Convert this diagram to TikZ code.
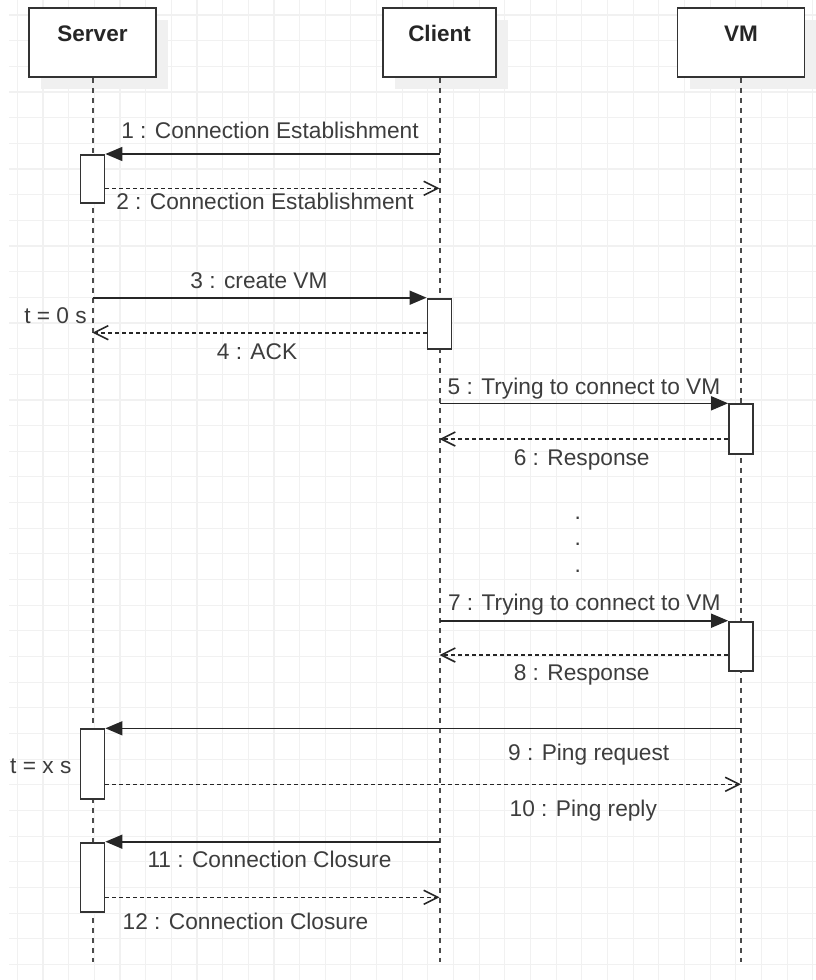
\documentclass[tikz,border=0pt]{standalone}
\usepackage{fontspec}
\setmainfont{Liberation Sans}
\usetikzlibrary{arrows.meta,calc}
\definecolor{gridc}{HTML}{F1F1F1}
\definecolor{shadowc}{HTML}{F0F0F0}
\definecolor{ink}{HTML}{333333}
\definecolor{txt}{HTML}{3D3D3D}
\definecolor{life}{HTML}{4A4A4A}
\begin{document}
\begin{tikzpicture}[x=1pt,y=-1pt,
  gridline/.style={draw=gridc,line width=1.2pt},
  headbox/.style={draw=ink,line width=1.8pt,fill=white,minimum height=69pt,inner sep=0pt},
  headshadow/.style={fill=shadowc,draw=none,minimum height=69pt,inner sep=0pt},
  title/.style={font=\fontsize{22.5}{26}\selectfont\bfseries,text=black!85,inner sep=0pt,text height=16pt,text depth=0pt},
  lifeline/.style={draw=life,line width=2pt,dash pattern=on 5pt off 5pt},
  actbox/.style={draw=ink,line width=1.8pt,fill=white,minimum width=24pt,inner sep=0pt,anchor=north},
  sync/.style={draw=black!85,line width=1.6pt,-{Triangle[length=17pt,width=14pt]}},
  reply/.style={draw=black!85,line width=1.6pt,dash pattern=on 4pt off 3pt,-{Straight Barb[length=14pt,width=14pt]}},
  msglabel/.style={font=\fontsize{22.7}{26}\selectfont,text=txt,inner sep=0pt,text height=16pt,text depth=0pt},
]
% canvas
\useasboundingbox (0,0) rectangle (816,980);
\fill[white] (0,0) rectangle (816,980);

% background grid
\foreach \i in {0,...,31}
  \draw[gridline] ({17.3+25.66*\i},0) -- ({17.3+25.66*\i},980);
\foreach \j in {0,...,37}
  \draw[gridline] (9,{15+25.66*\j}) -- (816,{15+25.66*\j});

% x positions of the three lifelines
\def\xs{92.5}
\def\xc{439.5}
\def\xv{741}

% header shadows
\node[headshadow,minimum width=127pt] (srvshadow) at (\xs+12,54.5) {};
\node[headshadow,minimum width=113pt] (clishadow) at (\xc+12,54.5) {};
\node[headshadow,minimum width=127pt] (vmshadow) at (\xv+12,54.5) {};

% header boxes
\node[headbox,minimum width=127pt] (srvbox) at (\xs,42.5) {};
\node[headbox,minimum width=113pt] (clibox) at (\xc,42.5) {};
\node[headbox,minimum width=127pt] (vmbox) at (\xv,42.5) {};
\node[title] (srvtitle) at (\xs,33) {Server};
\node[title] (clititle) at (\xc,33) {Client};
\node[title] (vmtitle) at (\xv,33) {VM};

% lifelines
\coordinate (lifeend) at (0,962);
\draw[lifeline] (srvbox.south) -- (srvbox.south |- lifeend);
\draw[lifeline] (clibox.south) -- (clibox.south |- lifeend);
\draw[lifeline] (vmbox.south) -- (vmbox.south |- lifeend);

% rows of the reply messages
\coordinate (r2) at (0,188.3);
\coordinate (r4) at (0,332.7);
\coordinate (r6) at (0,439);
\coordinate (r8) at (0,655);
\coordinate (r10) at (0,784.3);
\coordinate (r12) at (0,897.3);

% activation bars
\node[actbox,minimum height=48pt] (act1) at (\xs,154) {};
\node[actbox,minimum height=50pt] (act2) at (\xc,297.7) {};
\node[actbox,minimum height=50pt] (act3) at (\xv,403.3) {};
\node[actbox,minimum height=49.3pt] (act4) at (\xv,620.7) {};
\node[actbox,minimum height=70pt] (act5) at (\xs,728.3) {};
\node[actbox,minimum height=69pt] (act6) at (\xs,841.7) {};

% messages
\draw[sync] (clibox.south |- act1.north) -- (act1.north east);
\draw[reply] (act1.east |- r2) -- (clibox.south |- r2);
\draw[sync] (srvbox.south |- act2.north) -- (act2.north west);
\draw[reply] (act2.west |- r4) -- (srvbox.south |- r4);
\draw[sync] (clibox.south |- act3.north) -- (act3.north west);
\draw[reply] (act3.west |- r6) -- (clibox.south |- r6);
\draw[sync] (clibox.south |- act4.north) -- (act4.north west);
\draw[reply] (act4.west |- r8) -- (clibox.south |- r8);
\draw[sync] (vmbox.south |- act5.north) -- (act5.north east);
\draw[reply] (act5.east |- r10) -- (vmbox.south |- r10);
\draw[sync] (clibox.south |- act6.north) -- (act6.north east);
\draw[reply] (act6.east |- r12) -- (clibox.south |- r12);

% redraw bars above the message lines
\node[actbox,minimum height=48pt] at (\xs,154) {};
\node[actbox,minimum height=50pt] at (\xc,297.7) {};
\node[actbox,minimum height=50pt] at (\xv,403.3) {};
\node[actbox,minimum height=49.3pt] at (\xv,620.7) {};
\node[actbox,minimum height=70pt] at (\xs,728.3) {};
\node[actbox,minimum height=69pt] at (\xs,841.7) {};

% message labels
\node[msglabel] (l1) at (270,130) {1 : Connection Establishment};
\node[msglabel] (l2) at (265,201) {2 : Connection Establishment};
\node[msglabel] (l3) at (259,280.7) {3 : create VM};
\node[msglabel] (l4) at (257,351) {4 : ACK};
\node[msglabel] (l5) at (584,386.7) {5 : Trying to connect to VM};
\node[msglabel] (l6) at (581.7,457.3) {6 : Response};
\node[msglabel] (l7) at (584.3,602.7) {7 : Trying to connect to VM};
\node[msglabel] (l8) at (581.7,672.7) {8 : Response};
\node[msglabel] (l9) at (588.7,752.3) {9 : Ping request};
\node[msglabel] (l10) at (583.3,808.3) {10 : Ping reply};
\node[msglabel] (l11) at (269.5,859.3) {11 : Connection Closure};
\node[msglabel] (l12) at (245.5,921) {12 : Connection Closure};

% time marks
\node[msglabel] (t0) at (55.5,315) {t = 0 s};
\node[msglabel] (tx) at (40.8,765.7) {t = x s};

% ellipsis between the connection attempts
\node[msglabel,anchor=base] (dot1) at (577.7,519) {.};
\node[msglabel,anchor=base] (dot2) at (577.7,545) {.};
\node[msglabel,anchor=base] (dot3) at (577.7,572.4) {.};
\end{tikzpicture}
\end{document}
